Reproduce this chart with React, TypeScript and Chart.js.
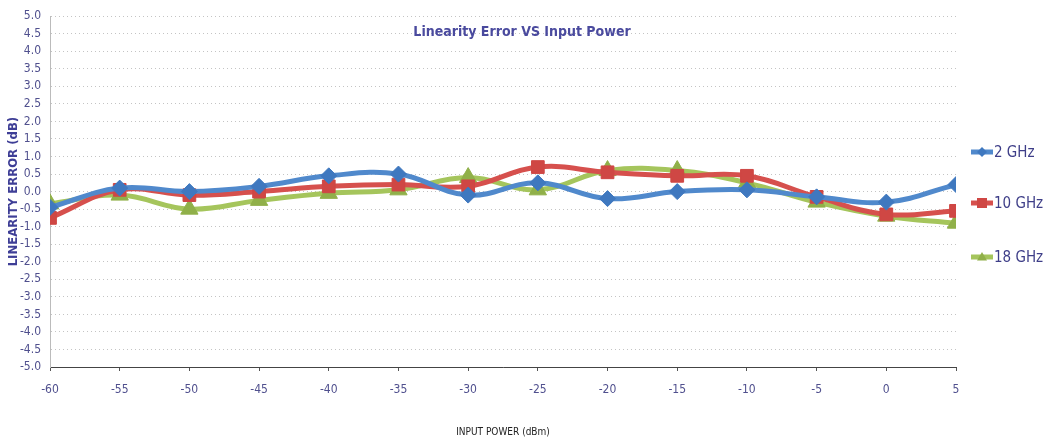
import React, { useEffect, useRef } from 'react';
import { Chart, registerables } from 'chart.js';

Chart.register(...registerables);

// ---- data ----
const inputPower = [-60, -55, -50, -45, -40, -35, -30, -25, -20, -15, -10, -5, 0, 5];
const err2GHz = [-0.45, 0.1, 0.0, 0.15, 0.45, 0.5, -0.1, 0.25, -0.2, 0.0, 0.05, -0.15, -0.3, 0.2];
const err10GHz = [-0.75, 0.05, -0.1, 0.0, 0.15, 0.2, 0.15, 0.7, 0.55, 0.45, 0.45, -0.15, -0.65, -0.55];
const err18GHz = [-0.35, -0.1, -0.5, -0.25, -0.05, 0.05, 0.4, 0.05, 0.6, 0.6, 0.25, -0.3, -0.7, -0.9];
const seriesNames = ['2 GHz', '10 GHz', '18 GHz'];
const chartTitle = 'Linearity Error VS Input Power';
const xTitle = 'INPUT POWER (dBm)';
const yTitle = 'LINEARITY ERROR (dB)';

// ---- styles ----
const seriesColors = ['#5089cc', '#d6504d', '#a5c55c'];
const markerColors = ['#3f78bf', '#cf4744', '#90b049'];
const pointStyles = ['rectRot', 'rect', 'triangle'];
const pointRadii = [8, 9, 10];
const FONT = "'Liberation Sans Narrow', 'DejaVu Sans Condensed', 'Open Sans', sans-serif";
const TICK_COLOR = '#50508e';
const LEGEND_COLOR = '#3e3e88';

function drawMarker(ctx: CanvasRenderingContext2D, style: string, x: number, y: number, r: number) {
  ctx.beginPath();
  if (style === 'rectRot') {
    ctx.moveTo(x, y - r);
    ctx.lineTo(x + r, y);
    ctx.lineTo(x, y + r);
    ctx.lineTo(x - r, y);
  } else if (style === 'rect') {
    ctx.rect(x - r, y - r, 2 * r, 2 * r);
  } else {
    ctx.moveTo(x, y - r);
    ctx.lineTo(x + r, y + r * 0.7);
    ctx.lineTo(x - r, y + r * 0.7);
  }
  ctx.closePath();
  ctx.fill();
}

const overlayPlugin = {
  id: 'overlay',
  afterDraw(chart: any) {
    const { ctx, chartArea } = chart;
    ctx.save();
    // title
    ctx.font = `bold 14px ${FONT}`;
    ctx.fillStyle = '#4a4a9e';
    ctx.textAlign = 'center';
    ctx.textBaseline = 'middle';
    ctx.fillText(chartTitle, (chartArea.left + chartArea.right) / 2 + 19, chartArea.top + 16);
    // legend
    const ys = [152, 203, 257];
    const x0 = chartArea.right + 15;
    chart.data.datasets.forEach((ds: any, i: number) => {
      const y = ys[i];
      ctx.strokeStyle = ds.borderColor;
      ctx.lineWidth = 5;
      ctx.beginPath();
      ctx.moveTo(x0, y);
      ctx.lineTo(x0 + 22, y);
      ctx.stroke();
      ctx.fillStyle = markerColors[i];
      drawMarker(ctx, pointStyles[i], x0 + 11, y, 5);
      ctx.font = `15px ${FONT}`;
      ctx.fillStyle = LEGEND_COLOR;
      ctx.textAlign = 'left';
      ctx.fillText(ds.label, x0 + 23, y + 1);
    });
    ctx.restore();
  },
};

export default function App() {
  const canvasRef = useRef<HTMLCanvasElement | null>(null);

  useEffect(() => {
    document.body.style.margin = '0';
    const series = [err2GHz, err10GHz, err18GHz];
    const chart = new Chart(canvasRef.current as HTMLCanvasElement, {
      type: 'line',
      data: {
        datasets: series.map((vals, i) => ({
          label: seriesNames[i],
          data: inputPower.map((p, j) => ({ x: p, y: vals[j] })),
          borderColor: seriesColors[i],
          backgroundColor: markerColors[i],
          pointBackgroundColor: markerColors[i],
          pointBorderColor: markerColors[i],
          pointBorderWidth: 1,
          pointStyle: pointStyles[i] as any,
          pointRadius: pointRadii[i],
          borderWidth: 5,
          tension: 0.4,
          fill: false,
        })),
      },
      options: {
        animation: false,
        responsive: false,
        layout: { padding: { top: 14, right: 88, bottom: 0, left: 0 } },
        plugins: {
          legend: { display: false },
          tooltip: { enabled: false },
        },
        scales: {
          x: {
            type: 'linear',
            min: -60,
            max: 5,
            afterFit: (s: any) => { s.height = 73; },
            ticks: {
              stepSize: 5,
              color: TICK_COLOR,
              font: { family: FONT, size: 12 },
              padding: 12,
            },
            grid: {
              drawOnChartArea: false,
              drawTicks: true,
              tickLength: 4,
              color: '#555555',
            },
            border: { color: '#444444', width: 1 },
            title: {
              display: true,
              text: xTitle,
              color: '#222222',
              font: { family: FONT, size: 10 },
              padding: { top: 0, bottom: 2 },
            },
          },
          y: {
            type: 'linear',
            min: -5,
            max: 5,
            afterFit: (s: any) => { s.width = 50; },
            ticks: {
              stepSize: 0.5,
              color: TICK_COLOR,
              font: { family: FONT, size: 12 },
              padding: 9,
              callback: (v: any) => Number(v).toFixed(1),
            },
            grid: {
              drawTicks: false,
              color: '#c4c4c4',
              lineWidth: 1,
            },
            border: { color: '#bbbbbb', dash: [1, 3] },
            title: {
              display: true,
              text: yTitle,
              color: '#3e3e96',
              font: { family: FONT, size: 13, weight: 'bold' },
              padding: { top: 6, bottom: 0 },
            },
          },
        },
      },
      plugins: [overlayPlugin],
    } as any);
    return () => chart.destroy();
  }, []);

  return (
    <div style={{ width: 1044, height: 440 }}>
      <canvas ref={canvasRef} width={1044} height={440} />
    </div>
  );
}
